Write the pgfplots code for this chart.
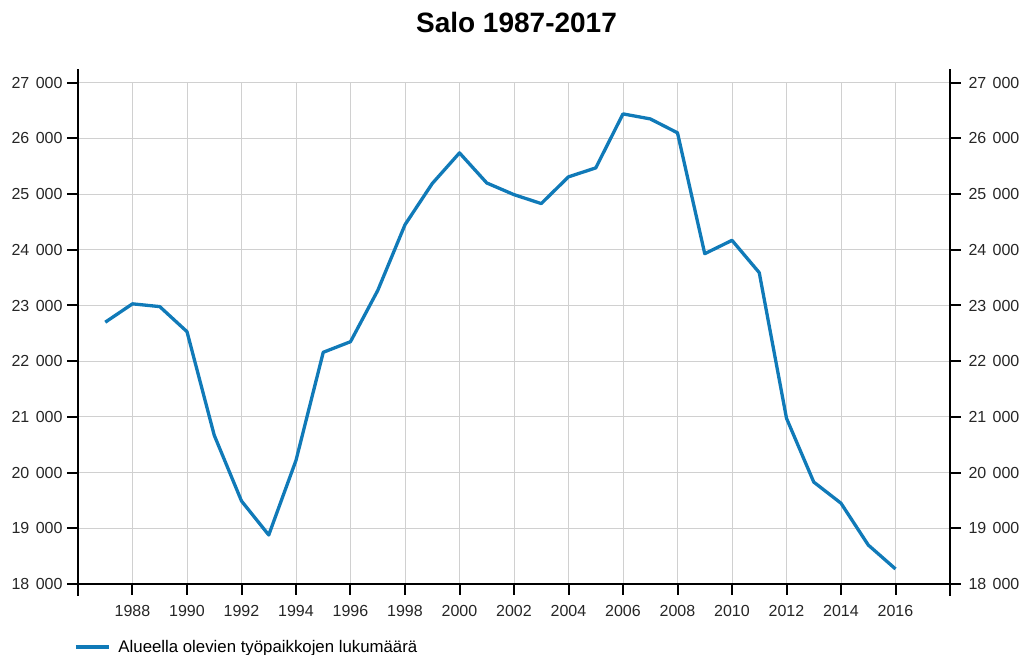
\documentclass[border=0pt]{standalone}
\usepackage{pgfplots}
\pgfplotsset{compat=1.18}
\usepackage{fontspec}
\setmainfont{Liberation Sans}
\definecolor{lineblue}{RGB}{16,122,184}
\definecolor{gridgray}{RGB}{208,208,208}
\pgfplotstableread{
year value
1987 22700
1988 23030
1989 22980
1990 22530
1991 20670
1992 19490
1993 18880
1994 20220
1995 22160
1996 22350
1997 23270
1998 24450
1999 25190
2000 25740
2001 25200
2002 24990
2003 24830
2004 25310
2005 25470
2006 26440
2007 26350
2008 26100
2009 23930
2010 24170
2011 23590
2012 20975
2013 19830
2014 19450
2015 18700
2016 18270
}\datatable
\newcommand{\ts}{\hspace{0.4em}}
\begin{document}
\begin{tikzpicture}[x=1pt,y=1pt]
\pgfplotsset{
  common/.style={
    scale only axis, width=872pt, height=501.3pt,
    at={(0,0)}, anchor=south west,
    xmin=1986, xmax=2018, ymin=18000, ymax=27000,
    scaled y ticks=false, scaled x ticks=false,
    ytick={18000,19000,...,27000},
    yticklabels={18\ts000,19\ts000,20\ts000,21\ts000,22\ts000,23\ts000,24\ts000,25\ts000,26\ts000,27\ts000},
    ticklabel style={font=\fontsize{16}{18}\selectfont, text=black!85},
  },
  fix/.style={tick align=outside, major tick length=11pt,
    tick style={black, line width=2pt},
    every outer x axis line/.append style={-, black, line width=2.6pt},
    every outer y axis line/.append style={-, black, line width=2.6pt, shorten >=-13.7pt, shorten <=-12pt},
    axis line style={-},
  },
}
\begin{axis}[common, name=ax,
  axis x line=bottom, axis y line=left,
  xtick={1988,1990,...,2016},
  xticklabels={1988,1990,1992,1994,1996,1998,2000,2002,2004,2006,2008,2010,2012,2014,2016},
  xticklabel style={anchor=north, yshift=-7pt},
  yticklabel style={anchor=east, xshift=-1pt},
  grid=major, grid style={gridgray, line width=1pt},
  legend style={draw=none, fill=none, inner sep=0pt, at={(axis description cs:0,0)},
    anchor=west, yshift=-63pt, xshift=-4pt, font=\fontsize{16.8}{19}\selectfont,
    nodes={inner xsep=8pt}},
  legend image code/.code={\draw[#1] (0pt,0pt) -- (33pt,0pt);},
  fix,
  ]
\addplot[lineblue, line width=3.3pt, line join=round] table[x=year,y=value]{\datatable};
\addlegendentry{Alueella olevien työpaikkojen lukumäärä}
\end{axis}
\begin{axis}[common,
  axis x line=none, axis y line=right,
  yticklabel style={anchor=west, xshift=4pt},
  fix,
  ]
\end{axis}
\node[anchor=base, font=\bfseries\fontsize{28}{32}\selectfont] at (438.5,551) {Salo 1987-2017};
\pgfresetboundingbox
\path (-78,-71) rectangle (945,584);
\end{tikzpicture}
\end{document}
